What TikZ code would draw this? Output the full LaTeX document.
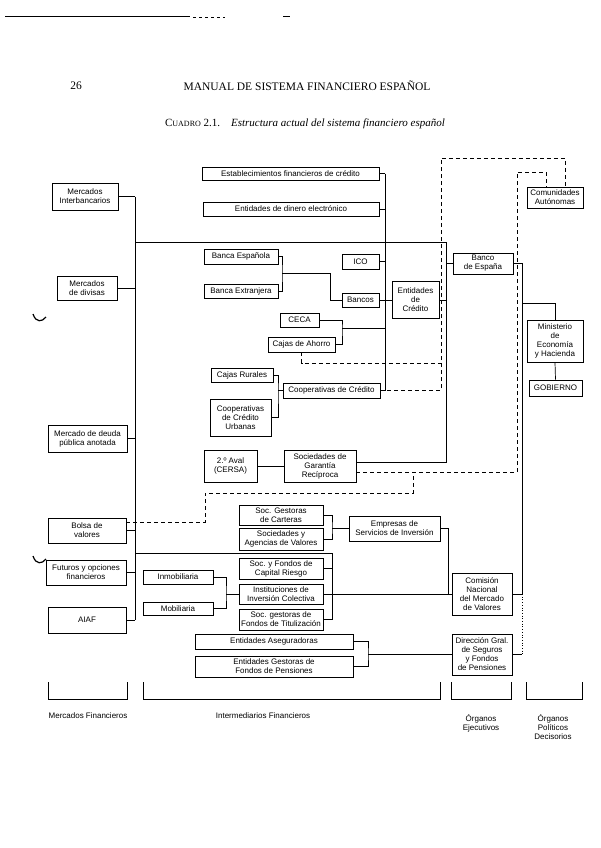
\documentclass[tikz,border=0pt]{standalone}
\usepackage{fontspec}
\setmainfont{Liberation Serif}
\setsansfont{Liberation Sans}

\tikzset{
  caja/.style 2 args={draw, line width=0.7pt, align=center, inner sep=0.5pt,
    minimum width=#1pt, minimum height=#2pt,
    font=\sffamily\fontsize{8}{9}\selectfont},
  linea/.style={line width=0.7pt},
  discont/.style={line width=0.7pt, dash pattern=on 4pt off 3pt},
  rotulo/.style={align=center, font=\sffamily\fontsize{8}{9.2}\selectfont},
}

\begin{document}
\begin{tikzpicture}[x=1pt,y=-1pt]
  \useasboundingbox (0,0) rectangle (601,848);

  % cabecera de la pagina
  \draw[line width=1pt] (5,17) -- (190,17);
  \draw[line width=0.6pt, dash pattern=on 3pt off 3pt] (193,17) -- (225,17);
  \draw[line width=1pt] (283,17) -- (290,17);
  \node[font=\fontsize{11.5}{13}\selectfont] (pag) at (76,86) {26};
  \node[font=\fontsize{11.5}{13}\selectfont] (tit) at (307,86) {MANUAL DE SISTEMA FINANCIERO ESPAÑOL};
  \node[font=\fontsize{11}{13}\selectfont] (cuadro) at (305,124)
    {C{\fontsize{8}{9}\selectfont UADRO} 2.1.\quad\textit{Estructura actual del sistema financiero español}};

  \draw[line width=1.2pt] (33,314) .. controls (36,323) and (42,322) .. (46,317);
  \draw[line width=1.2pt] (33,556) .. controls (36,565) and (42,564) .. (46,559);

  % mercados financieros
  \node[caja={66}{27}] (intb) at (85,196.5) {Mercados\\Interbancarios};
  \node[caja={60}{24}] (div) at (87,288) {Mercados\\de divisas};
  \node[caja={79}{27}] (deuda) at (87.5,438.5) {Mercado de deuda\\pública anotada};
  \node[caja={78}{25}] (bolsa) at (87,530.5) {Bolsa de\\valores};
  \node[caja={80}{25}] (futuros) at (86,572.5) {Futuros y opciones\\financieros};
  \node[caja={78}{26}] (aiaf) at (87,620) {AIAF};

  % intermediarios financieros
  \node[caja={177}{13}] (efc) at (290.5,173.5) {Establecimientos financieros de crédito};
  \node[caja={176}{14}] (ede) at (291,209) {Entidades de dinero electrónico};
  \node[caja={74}{15}] (bes) at (241,256.5) {Banca Española};
  \node[caja={74}{14}] (bex) at (241,291) {Banca Extranjera};
  \node[caja={37}{15}] (ico) at (360.5,261.5) {ICO};
  \node[caja={37}{14}] (bancos) at (360.5,300) {Bancos};
  \node[caja={47}{37}] (edc) at (415.5,300) {Entidades\\de\\Crédito};
  \node[caja={39}{14}] (ceca) at (299.5,320) {CECA};
  \node[caja={67}{15}] (cajas) at (301.5,344.5) {Cajas de Ahorro};
  \node[caja={62}{14}] (crur) at (242,375) {Cajas Rurales};
  \node[caja={61}{37}] (ccu) at (240.5,417.5) {Cooperativas\\de Crédito\\Urbanas};
  \node[caja={97}{15}] (coop) at (331.5,390.5) {Cooperativas de Crédito};
  \node[caja={53}{32}] (aval) at (230.5,466) {2.º Aval\\(CERSA)};
  \node[caja={72}{32}] (sgr) at (320,466) {Sociedades de\\Garantía\\Recíproca};
  \node[caja={84}{20}] (sgc) at (281,515) {Soc. Gestoras\\de Carteras};
  \node[caja={84}{22}] (sav) at (281,539) {Sociedades y\\Agencias de Valores};
  \node[caja={91}{25}] (esi) at (394.5,528.5) {Empresas de\\Servicios de Inversión};
  \node[caja={84}{21}] (scr) at (281,568.5) {Soc. y Fondos de\\Capital Riesgo};
  \node[caja={84}{20}] (iic) at (281,594) {Instituciones de\\Inversión Colectiva};
  \node[caja={84}{21}] (sft) at (281,619.5) {Soc. gestoras de\\Fondos de Titulización};
  \node[caja={70}{14}] (inm) at (178,577) {Inmobiliaria};
  \node[caja={70}{13}] (mob) at (178,608.5) {Mobiliaria};
  \node[caja={158}{15}] (ase) at (274,641.5) {Entidades Aseguradoras};
  \node[caja={158}{21}] (egfp) at (274,666.5) {Entidades Gestoras de\\Fondos de Pensiones};

  % organos
  \node[caja={60}{21}] (bde) at (483,263.5) {Banco\\de España};
  \node[caja={56}{21}] (ccaa) at (555,197.5) {Comunidades\\Autónomas};
  \node[caja={56}{42}] (meh) at (555,341) {Ministerio\\de\\Economía\\y Hacienda};
  \node[caja={53}{16}] (gob) at (555.5,388) {GOBIERNO};
  \node[caja={60}{42}] (cnmv) at (482,594) {Comisión\\Nacional\\del Mercado\\de Valores};
  \node[caja={60}{41}] (dgs) at (482,654.5) {Dirección Gral.\\de Seguros\\y Fondos\\de Pensiones};

  % puntos de los troncos
  \coordinate (tronco) at (135,196.5);
  \coordinate (troncoB) at (135,620);
  \coordinate (bdeN) at (446,242);
  \coordinate (bdeS) at (446,462);
  \coordinate (ecN) at (385,173.5);
  \coordinate (ecS) at (385,390.5);
  \coordinate (orgN) at (522,263.5);
  \coordinate (orgS) at (522,594);
  \coordinate (minis) at (522,303);
  \coordinate (banca) at (282,273);
  \coordinate (banca2) at (330,273);
  \coordinate (cajasB) at (342,328);
  \coordinate (coopB) at (278,390.5);
  \coordinate (esiB) at (332,528.5);
  \coordinate (cnmvB) at (448,594);
  \coordinate (iicN) at (332,553);
  \coordinate (iicS) at (332,619.5);
  \coordinate (invB) at (226,594);
  \coordinate (segB) at (368,654.5);

  % mercados
  \draw[linea] (tronco) -- (troncoB);
  \draw[linea] (intb.east) -- (intb.east -| tronco);
  \draw[linea] (div.east) -- (div.east -| tronco);
  \draw[linea] (deuda.east) -- (deuda.east -| tronco);
  \draw[linea] (bolsa.east) -- (bolsa.east -| tronco);
  \draw[linea] (futuros.east) -- (futuros.east -| tronco);
  \draw[linea] (aiaf.east) -- (aiaf.east -| tronco);

  % banco de espana
  \draw[linea] (bdeN -| tronco) -- (bdeN) -- (bdeS) -- ([yshift=4pt]sgr.east);
  \draw[linea] (bde.west) -- (bde.west -| bdeN);
  \draw[linea] (edc.east) -- (edc.east -| bdeN);

  % entidades de credito
  \draw[linea] (ecN) -- (ecS);
  \draw[linea] (efc.east) -- (efc.east -| ecN);
  \draw[linea] (ede.east) -- (ede.east -| ecN);
  \draw[linea] (ico.east) -- (ico.east -| ecN);
  \draw[linea] (bancos.east) -- (edc.west);
  \draw[linea] (coop.east) -- (coop.east -| ecN);
  \draw[linea] (bes.east) -| (banca) |- (bex.east);
  \draw[linea] (banca) -- (banca2) |- (bancos.west);
  \draw[linea] (ceca.east) -| (cajasB) |- (cajas.east);
  \draw[linea] (cajasB) -- (cajasB -| ecN);
  \draw[linea] (crur.east) -| (coopB) |- (ccu.east);
  \draw[linea] (coopB) -- (coop.west);
  \draw[linea] (aval) -- (sgr);

  % valores
  \draw[linea] (sgc.east) -| (esiB) |- (sav.east);
  \draw[linea] (esiB) -- (esi.west);
  \draw[linea] (esi.east) -| (cnmvB) -- (cnmv.west);
  \draw[linea] (iic.east) -- (cnmv.west);
  \draw[linea] (iicN -| tronco) -- (iicN) -- (iicS) -- (sft.east);
  \draw[linea] (scr.east) -- (scr.east -| iicN);
  \draw[linea] (inm.east) -| (invB) |- (mob.east);
  \draw[linea] (invB) -- (iic.west);

  % seguros
  \draw[linea] (ase.east) -| (segB) |- (egfp.east);
  \draw[linea] (segB) -- (dgs.west);

  % organos
  \draw[linea] (bde.east) -- (orgN) -- (orgS) -- (cnmv.east);
  \draw[linea, dotted] (orgS) -- (orgS |- dgs.east);
  \draw[linea] (dgs.east) -- (dgs.east -| orgS);
  \draw[linea] (minis) -| (meh.north);
  \draw[linea] (meh.south) -- (gob.north);

  % comunidades autonomas
  \coordinate (ccaaA) at (441,158);
  \coordinate (ccaaB) at (517,172);
  \coordinate (dcA) at (441,363);
  \coordinate (dcB) at (441,390.5);
  \coordinate (sgrD) at (517,472);
  \coordinate (bolsaA) at (205,493);
  \coordinate (bolsaB) at (413,472);
  \draw[discont] (cajas.south) |- (dcA);
  \draw[discont] (coop.east) -- (dcB) -- (ccaaA) -| ([xshift=10pt]ccaa.north);
  \draw[discont] ([yshift=-6pt]sgr.east) -- (sgrD) -- (ccaaB) -| ([xshift=-9pt]ccaa.north);
  \draw[discont] ([yshift=8.5pt]bolsa.east) -| (bolsaA) -| (bolsaB);

  % llaves inferiores
  \draw[linea] (48,682) |- (127,699) -- (127,682);
  \draw[linea] (143,682) |- (440,699) -- (440,682);
  \draw[linea] (451,682) |- (511,699) -- (511,682);
  \draw[linea] (526,682) |- (582,699) -- (582,682);
  \node[rotulo] (lmf) at (88,716) {Mercados Financieros};
  \node[rotulo] (lif) at (263,716) {Intermediarios Financieros};
  \node[rotulo, anchor=north] (loe) at (481,711) {Órganos\\Ejecutivos};
  \node[rotulo, anchor=north] (lop) at (553,711) {Órganos\\Políticos\\Decisorios};
\end{tikzpicture}
\end{document}
